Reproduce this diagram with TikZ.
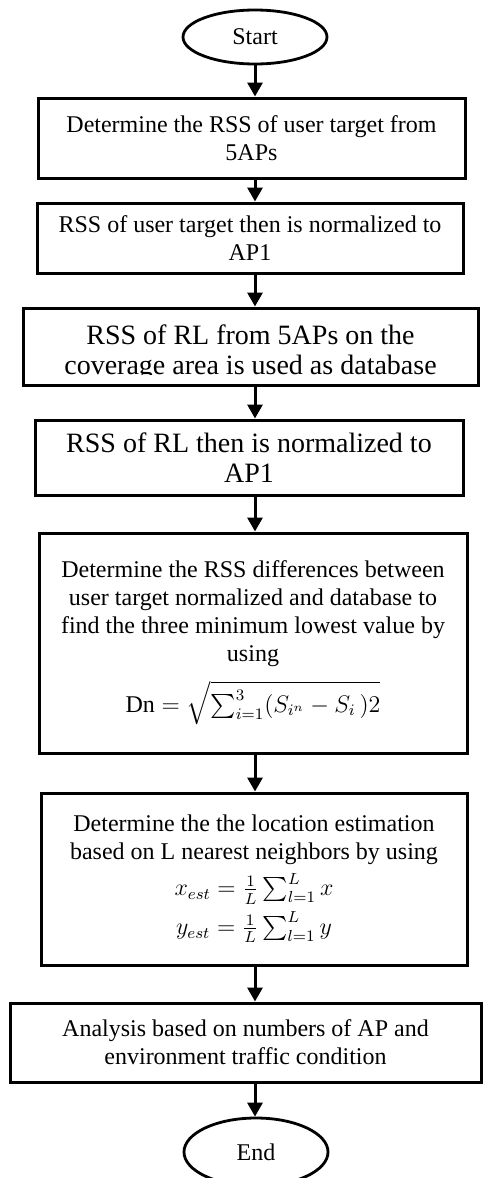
\documentclass[tikz,border=0pt]{standalone}
\usepackage{fontspec}
\setmainfont{Liberation Serif}
\usepackage{amsmath}
\usetikzlibrary{arrows.meta,shapes.geometric}

\begin{document}
\begin{tikzpicture}[x=0.5pt, y=-0.5pt,
    box/.style={draw, rectangle, line width=1.5pt, inner sep=0pt, align=flush center, font=\fontsize{12}{14}\selectfont},
    bigbox/.style={box, font=\fontsize{14}{15}\selectfont},
    term/.style={draw, ellipse, line width=1.4pt, inner sep=0pt, minimum width=72pt, font=\fontsize{12}{14}\selectfont},
    flow/.style={line width=1.5pt, -{Triangle[width=7.5pt,length=7pt]}}]
    \useasboundingbox (0,0) rectangle (482,1178);
    \node[term, minimum height=27pt] (start) at (255,37) {Start};
    \node[box, text width=213.5pt, minimum height=40pt] (b1) at (251.5,138) {Determine the RSS of user target from\\5APs};
    \node[box, text width=213pt, minimum height=35pt] (b2) at (250,238) {RSS of user target then is normalized to\\AP1};
    % frame of the third step, its text is cut at the bottom
    \node[bigbox, text width=227.5pt, minimum height=38.5pt] (b3) at (250.5,346.5) {};
    \begin{scope}
        \clip (23,308) rectangle (478,374);
        \node[align=flush center, inner sep=0pt, font=\fontsize{14}{15}\selectfont] (b3text) at (250.5,353) {RSS of RL from 5APs on the\\coverage area is used as database};
    \end{scope}
    \node[bigbox, text width=214pt, minimum height=37.5pt] (b4) at (249,457.5) {RSS of RL then is normalized to\\AP1};
    \node[box, text width=214pt, minimum height=110pt] (b5) at (253,643) {Determine the RSS differences between\\user target normalized and database to\\find the three minimum lowest value by\\using\\[6pt]$\mathrm{Dn} = \sqrt{\sum_{i=1}^{3}(S_{i^n} - S_i\,)2}$};
    \node[box, text width=213pt, minimum height=86pt] (b6) at (254,879) {Determine the the location estimation\\based on L nearest neighbors by using\\[4pt]$x_{est} = \frac{1}{L}\sum_{l=1}^{L} x$\\[3pt]$y_{est} = \frac{1}{L}\sum_{l=1}^{L} y$};
    \node[box, text width=235.5pt, minimum height=39.5pt] (b7) at (245.5,1042.5) {Analysis based on numbers of AP and\\environment traffic condition};
    \node[term, minimum height=34pt] (end) at (256,1152) {End};
    \foreach \a/\b in {start/b1, b1/b2, b2/b3, b3/b4, b4/b5, b5/b6, b6/b7, b7/end}
        \draw[flow] (\a.south -| start) -- (\b.north -| start);
\end{tikzpicture}
\end{document}
